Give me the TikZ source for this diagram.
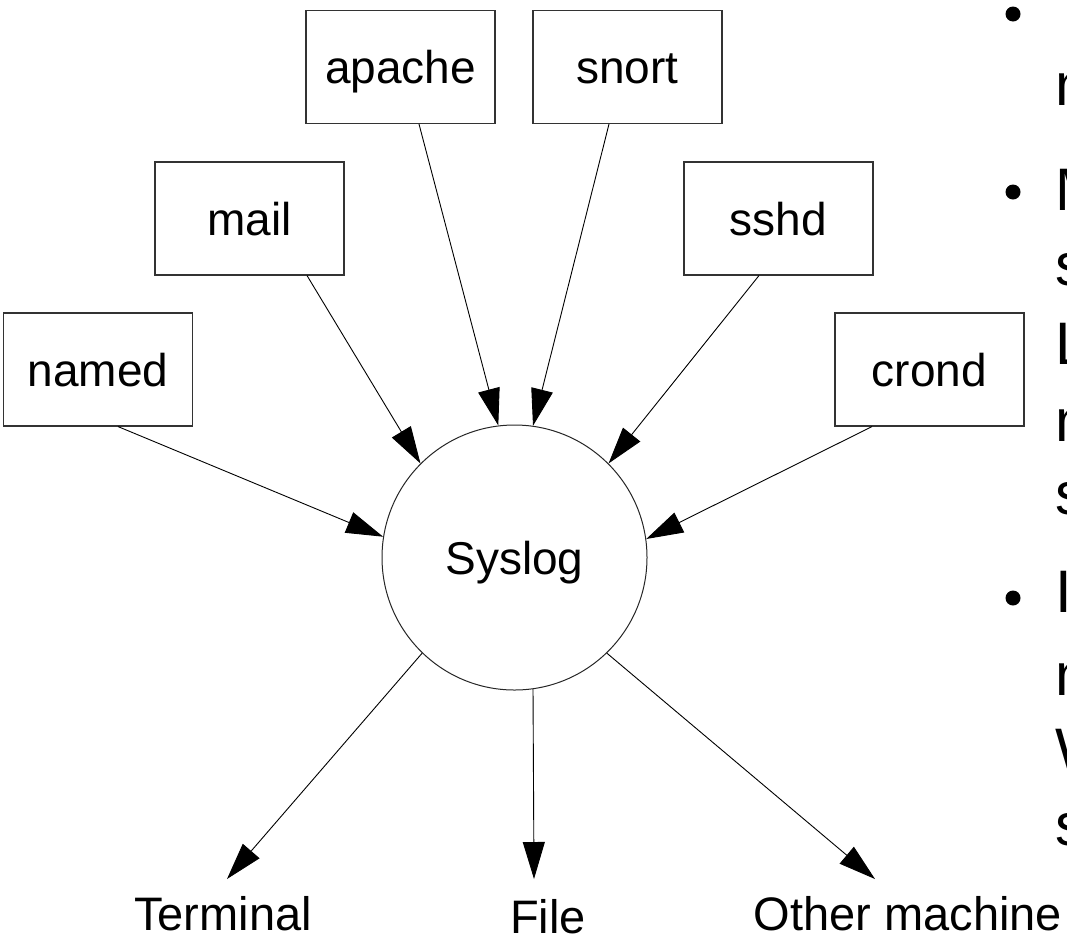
\documentclass[tikz,border=0pt]{standalone}
\usepackage{fontspec}
\setmainfont{Liberation Sans}
\usetikzlibrary{arrows.meta}

\begin{document}
\begin{tikzpicture}[x=1pt, y=-1pt,
    src/.style={draw=black!80, line width=1.1pt, minimum width=189pt, minimum height=113pt,
        inner sep=0pt, font=\fontsize{46}{55}\selectfont, text height=33pt, text depth=0pt},
    hub/.style={circle, draw=black!85, line width=1pt, minimum size=265pt, inner sep=0pt,
        font=\fontsize{46}{55}\selectfont, text height=33pt, text depth=0pt},
    dest/.style={inner sep=0pt, font=\fontsize{47}{56}\selectfont, text height=33pt, text depth=0pt},
    flow/.style={line width=0.9pt, -{Triangle[length=37pt, width=22pt]}},
    slide/.style={anchor=base west, inner sep=0pt, font=\fontsize{60}{72}\selectfont}]
    \useasboundingbox (0,0) rectangle (1067,938);

    % Syslog in the middle
    \node[hub] (sys) at (514.5,557.5) {Syslog};

    % Programs that send messages
    \node[src] (named)  at (98,369.5)   {named};
    \node[src] (mail)   at (249.5,218.5) {mail};
    \node[src] (apache) at (400.5,67)   {apache};
    \node[src] (snort)  at (627.5,67)   {snort};
    \node[src] (sshd)   at (778.5,218.5) {sshd};
    \node[src] (crond)  at (929.5,369.5) {crond};

    \draw[flow] ([xshift=20pt]named.south)    -- (sys.171.7);
    \draw[flow] ([xshift=57.5pt]mail.south)   -- (sys.135.3);
    \draw[flow] ([xshift=18.5pt]apache.south) -- (sys.97.9);
    \draw[flow] ([xshift=-18.5pt]snort.south) -- (sys.82.1);
    \draw[flow] ([xshift=-19.5pt]sshd.south)  -- (sys.45);
    \draw[flow] ([xshift=-57.5pt]crond.south) -- (sys.8.4);

    % Where the messages go
    \node[dest] (term)  at (223,914) {Terminal};
    \node[dest] (file)  at (548,917) {File};
    \node[dest] (other) at (908,914) {Other machine};
    \coordinate (term-tip)  at (227,879);
    \coordinate (file-tip)  at (534,879);
    \coordinate (other-tip) at (875,879);

    \draw[flow] (sys.226)   -- (term-tip);
    \draw[flow] (sys.278.5) -- (file-tip);
    \draw[flow] (sys.314.1) -- (other-tip);

    % Slide text cut off at the right edge
    \begin{scope}
        \clip (0,0) rectangle (1067,938);
        \fill (1013,14)  circle (7.5pt);
        \fill (1013,192) circle (7.5pt);
        \fill (1013,598) circle (7.5pt);
        \node[slide] (l1)  at (1055,30)  {T};
        \node[slide] (l2)  at (1055,105) {m};
        \node[slide] (l3)  at (1055,210) {M};
        \node[slide] (l4)  at (1055,285) {s};
        \node[slide] (l5)  at (1055,364) {L};
        \node[slide] (l6)  at (1055,441) {m};
        \node[slide] (l7)  at (1055,514) {s};
        \node[slide] (l8)  at (1055,612) {I};
        \node[slide] (l9)  at (1055,695) {m};
        \node[slide] (l10) at (1055,770) {W};
        \node[slide] (l11) at (1055,845) {s};
    \end{scope}
\end{tikzpicture}
\end{document}
